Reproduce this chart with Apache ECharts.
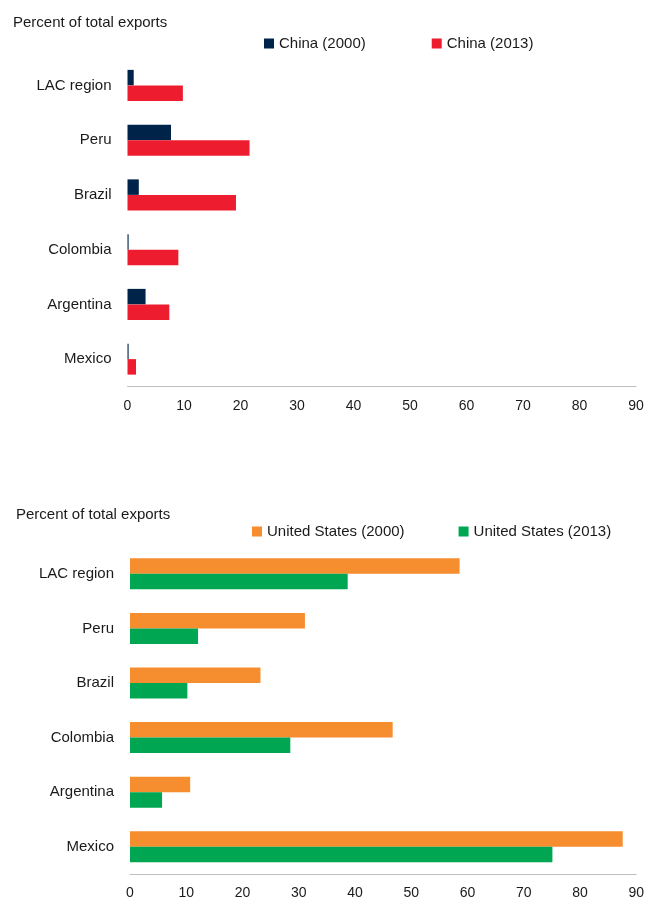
<!DOCTYPE html>
<html>
<head>
<meta charset="utf-8">
<script src="https://cdn.jsdelivr.net/npm/echarts@6/dist/echarts.min.js"></script>
<style>
html,body{margin:0;padding:0;background:#fff;}
#c{width:647px;height:900px;}
</style>
</head>
<body>
<div id="c"></div>
<script>
const categories = ['LAC region', 'Peru', 'Brazil', 'Colombia', 'Argentina', 'Mexico'];
const china2000 = [1.1, 7.7, 2.0, 0.2, 3.2, 0.2];
const china2013 = [9.8, 21.6, 19.2, 9.0, 7.4, 1.5];
const us2000 = [58.6, 31.1, 23.2, 46.7, 10.7, 87.6];
const us2013 = [38.7, 12.1, 10.2, 28.5, 5.7, 75.1];
const xTicks = [0, 10, 20, 30, 40, 50, 60, 70, 80, 90];
const yTitle = 'Percent of total exports';

const FONT = 'Liberation Sans, Arial, sans-serif';
const TXT = '#1a1a1a';
const chart = echarts.init(document.getElementById('c'));

function xAxisCfg(gridIndex, margin) {
  return {
    type: 'value', gridIndex: gridIndex,
    min: xTicks[0], max: xTicks[xTicks.length - 1], interval: xTicks[1] - xTicks[0],
    axisLine: {show: true, lineStyle: {color: '#BFBFBF', width: 1}},
    axisTick: {show: false},
    splitLine: {show: false},
    axisLabel: {color: TXT, fontFamily: FONT, fontSize: 14, margin: margin}
  };
}
function yAxisCfg(gridIndex) {
  return {
    type: 'category', gridIndex: gridIndex, data: categories, inverse: true,
    axisLine: {show: false}, axisTick: {show: false},
    axisLabel: {color: TXT, fontFamily: FONT, fontSize: 15, margin: 16}
  };
}
function barCfg(name, data, color, idx) {
  return {
    name: name, type: 'bar', data: data,
    xAxisIndex: idx, yAxisIndex: idx,
    barWidth: 15.5, barGap: '0%',
    itemStyle: {color: color},
    emphasis: {disabled: true}
  };
}

chart.setOption({
  animation: false,
  textStyle: {fontFamily: FONT},
  title: [
    {text: yTitle, left: 8, top: 10, textStyle: {fontSize: 15, fontWeight: 'normal', color: TXT, fontFamily: FONT}},
    {text: yTitle, left: 11, top: 502, textStyle: {fontSize: 15, fontWeight: 'normal', color: TXT, fontFamily: FONT}}
  ],
  legend: [
    {data: ['China (2000)', 'China (2013)'], left: 259, top: 31, icon: 'rect', itemWidth: 10, itemHeight: 10, itemGap: 66,
     textStyle: {fontSize: 15, color: TXT, fontFamily: FONT}, selectedMode: false},
    {data: ['United States (2000)', 'United States (2013)'], left: 247, top: 519, icon: 'rect', itemWidth: 10, itemHeight: 10, itemGap: 54,
     textStyle: {fontSize: 15, color: TXT, fontFamily: FONT}, selectedMode: false}
  ],
  grid: [
    {left: 127.5, width: 508.5, top: 58, height: 328.5, containLabel: false},
    {left: 130, width: 510, top: 546.5, height: 329.5, containLabel: false}
  ],
  xAxis: [xAxisCfg(0, 13), xAxisCfg(1, 12)],
  yAxis: [yAxisCfg(0), yAxisCfg(1)],
  series: [
    barCfg('China (2000)', china2000, '#00234A', 0),
    barCfg('China (2013)', china2013, '#ED1C2E', 0),
    barCfg('United States (2000)', us2000, '#F68D2E', 1),
    barCfg('United States (2013)', us2013, '#00A651', 1)
  ]
});
</script>
</body>
</html>
